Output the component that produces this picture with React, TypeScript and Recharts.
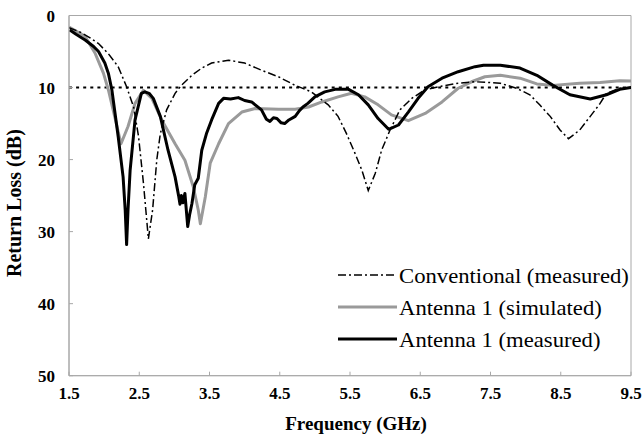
import React from 'react';
import { LineChart, Line, XAxis, YAxis, ReferenceLine, ReferenceArea, Legend, Label } from 'recharts';

// ---- data ----
const xTicks = [1.5, 2.5, 3.5, 4.5, 5.5, 6.5, 7.5, 8.5, 9.5];
const yTicks = [0, 10, 20, 30, 40, 50];
const threshold = 10;

const conventionalF = [1.5, 1.66, 1.8, 1.92, 2.06, 2.2, 2.32, 2.42, 2.49, 2.56, 2.63, 2.69, 2.75, 2.8, 2.89, 3.01, 3.1, 3.25, 3.39, 3.53, 3.77, 4.0, 4.24, 4.48, 4.72, 4.95, 5.19, 5.33, 5.45, 5.57, 5.67, 5.76, 5.86, 5.95, 6.07, 6.21, 6.38, 6.57, 6.81, 7.04, 7.28, 7.5, 7.64, 7.87, 8.06, 8.2, 8.35, 8.49, 8.61, 8.77, 8.92, 9.06, 9.15, 9.34, 9.5];
const conventionalDb = [1.7, 2.3, 3.1, 3.9, 5.3, 7.1, 9.9, 12.7, 16.8, 23.3, 31.0, 27.0, 20.0, 16.4, 13.1, 10.8, 9.7, 8.3, 7.3, 6.6, 6.2, 6.6, 7.6, 8.5, 9.7, 10.6, 12.4, 14.0, 16.4, 19.1, 21.5, 24.3, 21.9, 18.7, 15.9, 13.1, 11.5, 10.3, 9.8, 9.4, 9.2, 9.3, 9.4, 10.1, 11.0, 12.4, 14.0, 15.9, 17.1, 15.9, 14.0, 12.2, 10.8, 10.1, 10.0];

const simulatedF = [1.5, 1.73, 1.87, 1.99, 2.06, 2.15, 2.24, 2.34, 2.44, 2.56, 2.68, 2.82, 3.01, 3.15, 3.27, 3.34, 3.37, 3.44, 3.51, 3.63, 3.77, 3.96, 4.15, 4.48, 4.72, 4.91, 5.1, 5.33, 5.52, 5.71, 5.9, 6.09, 6.33, 6.57, 6.81, 7.04, 7.23, 7.42, 7.64, 7.92, 8.16, 8.39, 8.77, 9.06, 9.34, 9.5];
const simulatedDb = [1.6, 2.9, 5.2, 8.0, 10.3, 14.0, 17.8, 15.4, 12.2, 10.4, 11.5, 14.5, 17.8, 20.1, 23.8, 27.0, 28.9, 25.2, 20.5, 17.8, 15.0, 13.4, 12.9, 13.0, 13.0, 12.7, 12.0, 11.3, 10.8, 11.3, 12.4, 13.8, 14.6, 13.6, 12.0, 10.1, 9.2, 8.5, 8.3, 8.7, 9.5, 9.7, 9.4, 9.3, 9.05, 9.1];

const measuredF = [1.51, 1.6, 1.73, 1.85, 1.92, 2.01, 2.06, 2.11, 2.2, 2.27, 2.3, 2.32, 2.34, 2.37, 2.44, 2.53, 2.58, 2.64, 2.7, 2.8, 2.91, 3.01, 3.06, 3.08, 3.1, 3.12, 3.15, 3.17, 3.19, 3.22, 3.25, 3.29, 3.34, 3.39, 3.46, 3.53, 3.63, 3.7, 3.8, 3.91, 4.0, 4.1, 4.24, 4.31, 4.36, 4.41, 4.46, 4.52, 4.57, 4.63, 4.72, 4.78, 4.83, 4.9, 5.0, 5.14, 5.29, 5.48, 5.62, 5.76, 5.9, 6.05, 6.19, 6.33, 6.47, 6.61, 6.81, 7.04, 7.28, 7.4, 7.64, 7.92, 8.16, 8.39, 8.63, 8.92, 9.15, 9.34, 9.5];
const measuredDb = [2.0, 2.6, 3.4, 4.3, 5.0, 6.6, 8.0, 10.3, 16.8, 22.4, 27.0, 31.8, 27.0, 21.5, 14.5, 10.8, 10.6, 10.8, 11.5, 14.0, 18.7, 22.4, 25.0, 26.2, 25.0, 26.0, 24.7, 27.0, 29.3, 27.5, 26.1, 23.5, 22.6, 18.7, 16.3, 14.5, 12.2, 11.5, 11.6, 11.4, 11.8, 12.0, 13.1, 14.4, 14.7, 14.2, 14.3, 14.9, 15.0, 14.5, 14.0, 13.2, 12.7, 12.2, 11.3, 10.6, 10.25, 10.25, 11.0, 12.4, 14.3, 15.8, 15.2, 13.4, 11.5, 9.9, 8.7, 7.8, 7.1, 6.9, 6.9, 7.3, 8.3, 9.7, 11.0, 11.6, 11.0, 10.25, 10.0];

const toRows = (f: number[], v: number[]) => f.map((x, i) => ({ f: x, db: v[i] }));
const conventionalData = toRows(conventionalF, conventionalDb);
const simulatedData = toRows(simulatedF, simulatedDb);
const measuredData = toRows(measuredF, measuredDb);

const SERIF = "'Liberation Serif', serif";
const AXIS = '#a8a8a8';

const series = [
  { name: 'Conventional (measured)', color: '#000000', width: 1.5, dash: '8 3 2 3' },
  { name: 'Antenna 1 (simulated)', color: '#9a9a9a', width: 3, dash: undefined as string | undefined },
  { name: 'Antenna 1 (measured)', color: '#000000', width: 3, dash: undefined as string | undefined },
];

const renderLegend = () => (
  <div style={{ fontFamily: SERIF, fontSize: 21, color: '#000' }}>
    {series.map((s) => (
      <div key={s.name} style={{ display: 'flex', alignItems: 'center', height: 32, whiteSpace: 'nowrap' }}>
        <svg width={61} height={32} style={{ display: 'block' }}>
          <line x1={0} x2={59} y1={16} y2={16} stroke={s.color} strokeWidth={s.width} strokeDasharray={s.dash} />
        </svg>
        <span style={{ display: 'inline-block', position: 'relative', top: 1, fontFamily: SERIF, transform: 'scaleX(1.08)', transformOrigin: 'left center' }}>{s.name}</span>
      </div>
    ))}
  </div>
);

const XTitle = (props: any) => {
  const vb = props.viewBox || {};
  return (
    <text x={vb.x + vb.width / 2 + 6} y={vb.y + 54} textAnchor="middle" style={{ fontFamily: SERIF, fontWeight: 'bold', fontSize: 19 }} fill="#000">
      Frequency (GHz)
    </text>
  );
};

const YTitle = (props: any) => {
  const vb = props.viewBox || {};
  const cx = 21.5;
  const cy = vb.y + vb.height / 2 + 7.5;
  return (
    <text x={cx} y={cy} transform={`rotate(-90, ${cx}, ${cy})`} textAnchor="middle" style={{ fontFamily: SERIF, fontWeight: 'bold', fontSize: 20 }} fill="#000">
      Return Loss (dB)
    </text>
  );
};

const tickStyle = { fontFamily: SERIF, fontSize: 17, fontWeight: 'bold', fill: '#000', style: { fontFamily: SERIF } };

export default function App() {
  return (
    <div style={{ position: 'absolute', left: 0, top: 0, width: 644, height: 436, background: '#fff', fontFamily: SERIF }}>
      <LineChart width={644} height={436} margin={{ top: 15.5, right: 13, bottom: 0, left: 0 }} style={{ fontFamily: SERIF }}>
        <XAxis
          type="number"
          dataKey="f"
          domain={[1.5, 9.5]}
          ticks={xTicks}
          allowDataOverflow
          height={60.3}
          stroke={AXIS}
          tickSize={-4}
          tickMargin={15.3}
          tick={tickStyle}
          tickFormatter={(v: number) => v.toFixed(1)}
        >
          <Label content={XTitle} />
        </XAxis>
        <YAxis
          type="number"
          reversed
          domain={[0, 50]}
          ticks={yTicks}
          allowDataOverflow
          width={69}
          stroke={AXIS}
          tickSize={-4}
          tickMargin={18}
          tick={tickStyle}
        >
          <Label content={YTitle} />
        </YAxis>
        <ReferenceArea x1={1.5} x2={9.5} y1={0} y2={50} fill="none" stroke={AXIS} strokeWidth={1} ifOverflow="visible" />
        <ReferenceLine y={threshold} stroke="#000" strokeWidth={2} strokeDasharray="3 4.1" />
        <Line data={simulatedData} dataKey="db" name={series[1].name} type="linear" stroke={series[1].color} strokeWidth={series[1].width} dot={false} isAnimationActive={false} strokeLinejoin="round" />
        <Line data={measuredData} dataKey="db" name={series[2].name} type="linear" stroke={series[2].color} strokeWidth={series[2].width} dot={false} isAnimationActive={false} strokeLinejoin="round" />
        <Line data={conventionalData} dataKey="db" name={series[0].name} type="linear" stroke={series[0].color} strokeWidth={series[0].width} strokeDasharray={series[0].dash} dot={false} isAnimationActive={false} />
        <Legend layout="vertical" align="center" verticalAlign="middle" content={renderLegend} wrapperStyle={{ left: 338, top: 259, width: 300, height: 96 }} />
      </LineChart>
    </div>
  );
}
